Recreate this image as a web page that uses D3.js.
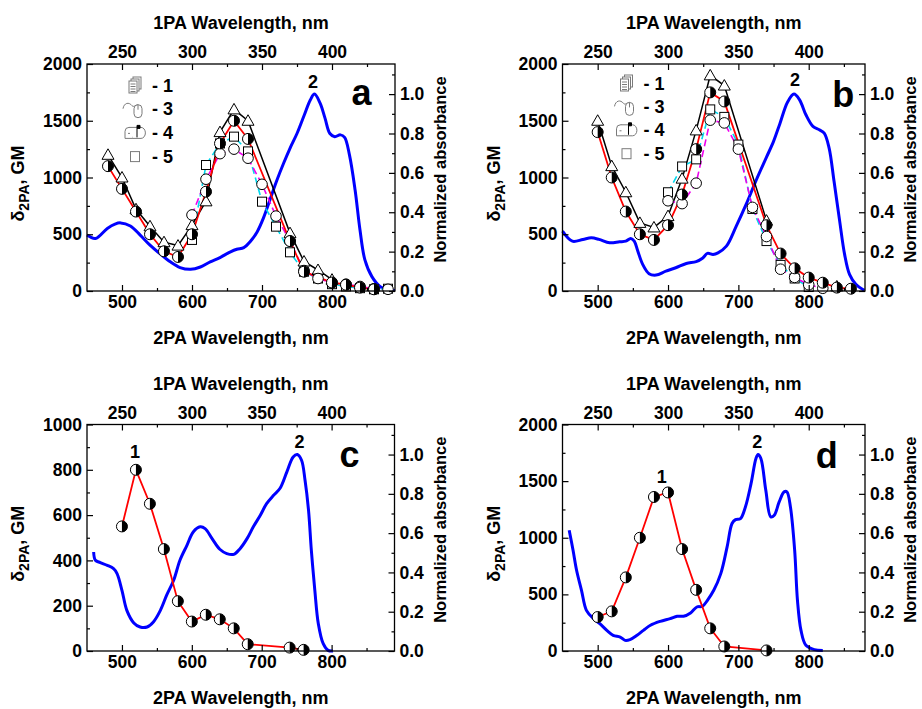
<!DOCTYPE html>
<html><head><meta charset="utf-8">
<script src="https://cdn.jsdelivr.net/npm/d3@7"></script>
<style>
body{margin:0;background:#fff;}
svg text{font-family:"Liberation Sans",Arial,Helvetica,sans-serif;font-weight:bold;}
</style></head><body>
<svg id="chart" width="922" height="709"></svg>
<script>
// ===================== DATA =====================
// axis ticks
const xMajor = [500, 600, 700, 800];
const xMinor = [550, 650, 750, 850];
const topMajor = [250, 300, 350, 400];
const topMinor = [275, 325, 375, 425];
const gmTicks2000 = [0, 500, 1000, 1500, 2000];
const gmMinor2000 = [250, 750, 1250, 1750];
const gmTicks1000 = [0, 200, 400, 600, 800, 1000];
const gmMinor1000 = [100, 300, 500, 700, 900];
const absTicks = [0, 0.2, 0.4, 0.6, 0.8, 1.0];
const absMinor = [0.1, 0.3, 0.5, 0.7, 0.9, 1.1];
const absMax = 1.153;
const legendLabels = ["- 1", "- 3", "- 4", "- 5"];

// ---- panel a ----
const absWlA = [450,462,479,490,498,512,526,540,555,569,583,598,612,626,640,655,664,674,683,693,702,712,721,731,740,750,760,769,775,783,790,797,804,812,818,825,833,840,847,857,869,883,890];
const absA   = [0.284,0.267,0.318,0.34,0.346,0.330,0.284,0.233,0.187,0.148,0.119,0.110,0.122,0.148,0.170,0.199,0.212,0.22,0.25,0.30,0.37,0.47,0.56,0.65,0.725,0.80,0.89,0.97,1.0,0.954,0.878,0.80,0.784,0.793,0.78,0.69,0.513,0.31,0.158,0.073,0.022,0.005,0.003];
const wlTriA  = [480,500,520,540,560,580,600,620,640,660,680,740,760,780,800];
const triA    = [1200,1000,720,570,430,400,580,790,1400,1600,1500,510,260,185,100];
const wlSqA   = [600,620,640,660,680,700,720,740,760,780,800,820,840,860,880];
const sqA     = [450,1110,1300,1360,1230,787,567,341,170,110,60,40,25,15,20];
const wlCircA = [600,620,640,660,680,700,720,740,760,780,800,820,840,860,880];
const circA   = [670,985,1210,1250,1170,940,660,440,180,110,70,60,40,20,15];
const wlHalfA = [480,500,520,540,560,580,600,620,640,660,680,740,760,800,820,840,860];
const halfA   = [1100,900,700,500,350,300,500,875,1300,1500,1340,440,170,75,55,30,15];

// ---- panel b ----
const absWlB = [450,464,479,491,502,517,531,540,547,552,557,564,573,583,597,611,626,640,649,656,664,671,683,697,711,725,740,750,759,770,779,787,796,806,815,822,829,836,844,851,858,867,879];
const absB   = [0.304,0.253,0.262,0.270,0.262,0.245,0.250,0.253,0.267,0.253,0.203,0.135,0.088,0.081,0.101,0.118,0.140,0.149,0.166,0.191,0.186,0.194,0.228,0.33,0.44,0.56,0.68,0.76,0.85,0.96,1.0,0.971,0.895,0.836,0.819,0.802,0.726,0.557,0.355,0.186,0.084,0.034,0.003];
const wlTriB  = [500,520,540,560,580,600,620,640,660,680,740,760,840];
const triB    = [1500,1100,870,600,560,660,990,1415,1900,1810,620,null,40];
const wlSqB   = [600,620,640,660,680,700,720,740,760,780,800];
const sqB     = [870,1097,1160,1600,1534,1290,723,440,230,110,35];
const wlCircB = [600,620,640,660,680,700,720,740,760,780,800,820];
const circB   = [795,770,950,1505,1481,1250,737,480,192,120,55,24];
const wlHalfB = [500,520,540,560,580,600,620,640,660,680,740,760,780,800,820,840,860];
const halfB   = [1400,1000,700,500,450,580,850,1250,1750,1670,580,330,200,118,73,30,20];

// ---- panel c ----
const absWlC = [459.5,462,469,479,488,493,500,507,517,526,536,545,555,564,574,583,593,602,612,619,629,640,650,660,669,679,688,698,707,717,726,736,745,751,757,762,767,771,776,781,788,795,802];
const absC   = [0.504,0.462,0.450,0.436,0.419,0.394,0.309,0.207,0.143,0.122,0.122,0.148,0.207,0.284,0.360,0.462,0.538,0.606,0.632,0.623,0.572,0.518,0.496,0.492,0.521,0.572,0.632,0.691,0.750,0.793,0.827,0.912,0.988,1.0,0.971,0.869,0.716,0.513,0.309,0.139,0.037,0.003,0];
const wlHalfC = [500,520,540,560,580,600,620,640,660,680,740,760];
const halfC   = [550,800,650,450,220,130,160,140,100,30,15,5];

// ---- panel d ----
const absWlD = [459.5,465,470,477,484,494,503,513,522,532,539,546,556,565,575,589,603,613,622,632,641,649,656,665,675,684,691,696,703,710,718,725,728,732,739,746,751,758,765,769,774,780,784,789,796,808,820];
const absD   = [0.615,0.513,0.411,0.309,0.207,0.165,0.139,0.105,0.080,0.071,0.054,0.058,0.080,0.105,0.131,0.151,0.165,0.177,0.177,0.194,0.224,0.228,0.258,0.309,0.394,0.530,0.649,0.669,0.674,0.733,0.852,0.980,1.0,0.980,0.818,0.683,0.691,0.759,0.810,0.810,0.733,0.513,0.258,0.105,0.029,0.007,0.003];
const wlHalfD = [500,520,540,560,580,600,620,640,660,680,740];
const halfD   = [300,350,650,1000,1360,1400,900,540,200,40,5];

// ===================== DRAWING =====================
const FONT = '"Liberation Sans", Arial, Helvetica, sans-serif';
const svg = d3.select("#chart");
const GRAY = "#7a7a7a";

function drawMarker(sel, type) {
  if (type === "tri") {
    sel.append("path").attr("d", "M-6,4.5L6,4.5L0,-6Z").attr("fill", "#fff").attr("stroke", "#000").attr("stroke-width", 1);
  } else if (type === "sq") {
    sel.append("rect").attr("x", -4.5).attr("y", -4.5).attr("width", 9).attr("height", 9).attr("fill", "#fff").attr("stroke", "#000").attr("stroke-width", 1);
  } else if (type === "circ") {
    sel.append("circle").attr("r", 5.3).attr("fill", "#fff").attr("stroke", "#000").attr("stroke-width", 1);
  } else if (type === "half") {
    const r = 5.5;
    sel.append("circle").attr("r", r).attr("fill", "#fff").attr("stroke", "#000").attr("stroke-width", 1);
    sel.append("path").attr("d", `M0,${-r}A${r},${r} 0 0 1 0,${r}Z`).attr("fill", "#000");
  }
}

function legendIcon(g, i, cx, cy) {
  const s = g.append("g").attr("transform", `translate(${cx},${cy})`).attr("fill", "#fff").attr("stroke", GRAY).attr("stroke-width", 1);
  if (i === 0) { // stacked documents
    s.append("rect").attr("x", -2).attr("y", -8).attr("width", 8).attr("height", 12);
    s.append("rect").attr("x", -4).attr("y", -6).attr("width", 8).attr("height", 12);
    s.append("rect").attr("x", -6).attr("y", -4).attr("width", 8).attr("height", 12);
    [-1, 1.5, 4, 6.5].forEach(yy => s.append("line").attr("x1", -4.5).attr("x2", 0.5).attr("y1", yy).attr("y2", yy));
  } else if (i === 1) { // mouse
    s.append("path").attr("fill", "none").attr("d", "M-12,0 C-11,-6 -6,-7 -3,-3 C-1,-1 1,-4 3,-4");
    s.append("rect").attr("x", -1).attr("y", -4).attr("width", 8).attr("height", 13).attr("rx", 4);
    s.append("line").attr("x1", 3).attr("x2", 3).attr("y1", -4).attr("y2", 1);
  } else if (i === 2) { // mailbox
    s.append("path").attr("d", "M-10,6 L-10,-1 A4,4 0 0 1 -2,-1 L-2,6 Z");
    s.append("path").attr("d", "M-6,-5 L6,-5 A4,5 0 0 1 6,6 L-2,6");
    s.append("line").attr("x1", -7).attr("x2", -5).attr("y1", 1).attr("y2", 1);
    s.append("path").attr("d", "M2,5 L2,-7 L5,-7 L5,-4 L2,-4").attr("fill", "#000").attr("stroke", "#000");
  } else { // square
    s.append("rect").attr("x", -4.5).attr("y", -4.5).attr("width", 9).attr("height", 10);
  }
}

function styleAxis(a, size) {
  a.attr("font-family", FONT).attr("font-size", size).attr("font-weight", "bold");
  a.select(".domain").remove();
  a.selectAll(".tick line").attr("stroke", "#000").attr("stroke-width", 1.2);
  a.selectAll(".tick text").attr("fill", "#000");
}

function drawPanel(p) {
  const g = svg.append("g");
  const x = d3.scaleLinear().domain(p.xDomain).range([p.left, p.right]);
  const xTop = d3.scaleLinear().domain(p.xDomain.map(v => v / 2)).range([p.left, p.right]);
  const yL = d3.scaleLinear().domain([0, p.yMax]).range([p.bottom, p.top]);
  const yR = d3.scaleLinear().domain([0, absMax]).range([p.bottom, p.top]);

  // absorbance curve
  g.append("path").datum(d3.zip(p.absWl, p.abs))
    .attr("fill", "none").attr("stroke", "#0000ff").attr("stroke-width", 3).attr("stroke-linejoin", "round")
    .attr("d", d3.line().x(d => x(d[0])).y(d => yR(d[1])).curve(d3.curveCatmullRom.alpha(0.5)));

  // series lines
  p.series.forEach(s => {
    g.append("path").datum(d3.zip(s.wl, s.v))
      .attr("fill", "none").attr("stroke", s.color).attr("stroke-width", s.width)
      .attr("stroke-dasharray", s.dash || null)
      .attr("d", d3.line().defined(d => d[1] != null).x(d => x(d[0])).y(d => yL(d[1])));
  });
  // markers
  p.series.forEach(s => {
    g.append("g").selectAll("g").data(d3.zip(s.wl, s.v).filter(d => d[1] != null)).join("g")
      .attr("transform", d => `translate(${x(d[0])},${yL(d[1])})`)
      .each(function () { drawMarker(d3.select(this), s.marker); });
  });

  // axes
  const ax = (gen, tr, size) => { const a = g.append("g").attr("transform", tr).call(gen); styleAxis(a, size); return a; };
  ax(d3.axisBottom(x).tickValues(xMajor).tickSize(-6).tickSizeOuter(0).tickPadding(5).tickFormat(d3.format("d")), `translate(0,${p.bottom})`, 17.5);
  ax(d3.axisBottom(x).tickValues(xMinor).tickSize(-3).tickSizeOuter(0).tickFormat(""), `translate(0,${p.bottom})`, 17.5);
  ax(d3.axisTop(xTop).tickValues(topMajor).tickSize(-6).tickSizeOuter(0).tickPadding(6).tickFormat(d3.format("d")), `translate(0,${p.top})`, 17.5);
  ax(d3.axisTop(xTop).tickValues(topMinor).tickSize(-3).tickSizeOuter(0).tickFormat(""), `translate(0,${p.top})`, 17.5);
  ax(d3.axisLeft(yL).tickValues(p.yTicks).tickSize(-6).tickSizeOuter(0).tickPadding(5).tickFormat(d3.format("d")), `translate(${p.left},0)`, 17.5);
  ax(d3.axisLeft(yL).tickValues(p.yMinor).tickSize(-3).tickSizeOuter(0).tickFormat(""), `translate(${p.left},0)`, 17.5);
  ax(d3.axisRight(yR).tickValues(absTicks).tickSize(-6).tickSizeOuter(0).tickPadding(5).tickFormat(d3.format(".1f")), `translate(${p.right},0)`, 17.5);
  ax(d3.axisRight(yR).tickValues(absMinor).tickSize(-3).tickSizeOuter(0).tickFormat(""), `translate(${p.right},0)`, 17.5);

  // frame
  g.append("rect").attr("x", p.left).attr("y", p.top).attr("width", p.right - p.left).attr("height", p.bottom - p.top)
    .attr("fill", "none").attr("stroke", "#000").attr("stroke-width", 1.3);

  // titles
  const cx = (p.left + p.right) / 2, cy = (p.top + p.bottom) / 2;
  g.append("text").attr("x", cx).attr("y", p.top - 35).attr("text-anchor", "middle").attr("font-size", 18).text("1PA Wavelength, nm");
  g.append("text").attr("x", cx).attr("y", p.bottom + 53).attr("text-anchor", "middle").attr("font-size", 18).text("2PA Wavelength, nm");
  const yt = g.append("text").attr("transform", `translate(${p.left - 63},${cy + 6}) rotate(-90)`).attr("text-anchor", "middle").attr("font-size", 18);
  yt.append("tspan").text("δ");
  yt.append("tspan").attr("dy", 5).attr("font-size", 14).text("2PA");
  yt.append("tspan").attr("dy", -5).text(", GM");
  g.append("text").attr("transform", `translate(${p.right + 51},${cy - 8}) rotate(-90)`).attr("text-anchor", "middle").attr("font-size", 16.5).text("Normalized absorbance");

  // annotation labels (positioned in data coordinates)
  p.labels.forEach(l => {
    const yy = l.axis === "abs" ? yR(l.v) : yL(l.v);
    g.append("text").attr("x", x(l.wl)).attr("y", yy).attr("text-anchor", "middle").attr("font-size", l.size).text(l.t);
  });

  // legend
  if (p.legend) {
    legendLabels.forEach((t, i) => {
      const ly = p.top + p.legend.dy0 + i * p.legend.step;
      legendIcon(g, i, p.left + p.legend.dx, ly);
      g.append("text").attr("x", p.left + p.legend.dx + 17).attr("y", ly + 6.5).attr("font-size", 18).text(t);
    });
  }
}

const seriesStyle = {
  tri:  {marker: "tri",  color: "#000",    width: 1.5},
  sq:   {marker: "sq",   color: "#00d8ee", width: 1.6, dash: "7,4"},
  circ: {marker: "circ", color: "#ee00ee", width: 1.6, dash: "7,4"},
  half: {marker: "half", color: "#ff0000", width: 1.8}
};

drawPanel({
  left: 87, right: 395, top: 64, bottom: 291, xDomain: [450, 890], yMax: 2000,
  yTicks: gmTicks2000, yMinor: gmMinor2000, absWl: absWlA, abs: absA,
  series: [
    Object.assign({wl: wlTriA, v: triA}, seriesStyle.tri),
    Object.assign({wl: wlSqA, v: sqA}, seriesStyle.sq),
    Object.assign({wl: wlCircA, v: circA}, seriesStyle.circ),
    Object.assign({wl: wlHalfA, v: halfA}, seriesStyle.half)
  ],
  labels: [{t: "2", wl: 773, v: 1.03, axis: "abs", size: 18}, {t: "a", wl: 842, v: 0.947, axis: "abs", size: 36}],
  legend: {dx: 48, dy0: 21, step: 23.7}
});
drawPanel({
  left: 562.5, right: 865, top: 64, bottom: 291, xDomain: [450, 880], yMax: 2000,
  yTicks: gmTicks2000, yMinor: gmMinor2000, absWl: absWlB, abs: absB,
  series: [
    Object.assign({wl: wlTriB, v: triB}, seriesStyle.tri),
    Object.assign({wl: wlSqB, v: sqB}, seriesStyle.sq),
    Object.assign({wl: wlCircB, v: circB}, seriesStyle.circ),
    Object.assign({wl: wlHalfB, v: halfB}, seriesStyle.half)
  ],
  labels: [{t: "2", wl: 780.5, v: 1.039, axis: "abs", size: 18}, {t: "b", wl: 849, v: 0.937, axis: "abs", size: 36}],
  legend: {dx: 64, dy0: 19, step: 23.4}
});
drawPanel({
  left: 87, right: 394.5, top: 424.5, bottom: 651, xDomain: [450, 890], yMax: 1000,
  yTicks: gmTicks1000, yMinor: gmMinor1000, absWl: absWlC, abs: absC,
  series: [Object.assign({wl: wlHalfC, v: halfC}, seriesStyle.half)],
  labels: [{t: "1", wl: 518.6, v: 851, axis: "gm", size: 18}, {t: "2", wl: 754, v: 1.035, axis: "abs", size: 18}, {t: "c", wl: 825.7, v: 0.938, axis: "abs", size: 36}]
});
drawPanel({
  left: 562.5, right: 865, top: 424.5, bottom: 651, xDomain: [450, 880], yMax: 2000,
  yTicks: gmTicks2000, yMinor: gmMinor2000, absWl: absWlD, abs: absD,
  series: [Object.assign({wl: wlHalfD, v: halfD}, seriesStyle.half)],
  labels: [{t: "1", wl: 591, v: 1481, axis: "gm", size: 18}, {t: "2", wl: 727, v: 1.035, axis: "abs", size: 18}, {t: "d", wl: 825.6, v: 0.930, axis: "abs", size: 36}]
});
</script>
</body></html>
